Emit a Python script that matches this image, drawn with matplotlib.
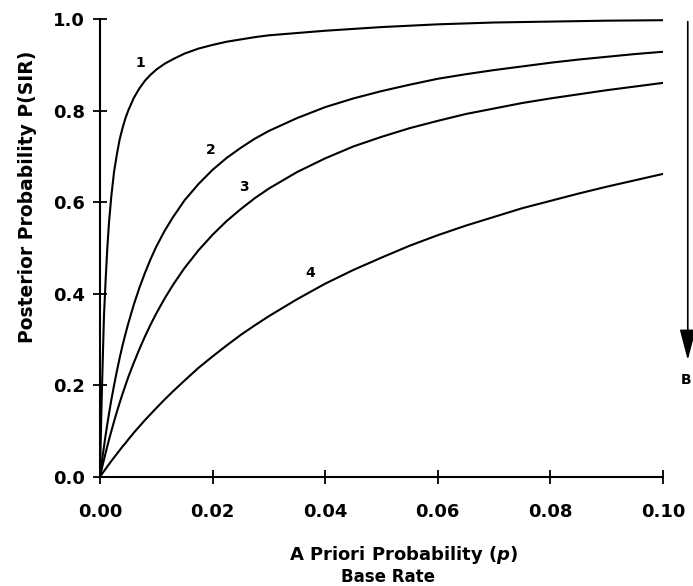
import matplotlib
matplotlib.use("Agg")
import matplotlib.pyplot as plt

# base rate (a priori probability p)
p = [0, 0.0001, 0.0002, 0.0003, 0.0005, 0.0007, 0.001, 0.0013, 0.0016, 0.002,
     0.0025, 0.003, 0.0035, 0.004, 0.0045, 0.005, 0.006, 0.007, 0.008, 0.009,
     0.01, 0.0115, 0.013, 0.015, 0.0175, 0.02, 0.0225, 0.025, 0.0275, 0.03,
     0.035, 0.04, 0.045, 0.05, 0.055, 0.06, 0.065, 0.07, 0.075, 0.08,
     0.085, 0.09, 0.095, 0.10]

# posterior probability P(S|R)
curve1 = [0, 0.06, 0.12, 0.17, 0.26, 0.35, 0.43, 0.50, 0.556, 0.612,
          0.667, 0.705, 0.738, 0.762, 0.783, 0.800, 0.828, 0.849, 0.866, 0.879,
          0.890, 0.903, 0.913, 0.925, 0.936, 0.944, 0.951, 0.956, 0.961, 0.965,
          0.970, 0.975, 0.979, 0.983, 0.986, 0.989, 0.991, 0.993, 0.994, 0.995,
          0.996, 0.997, 0.9975, 0.998]
curve2 = [0, 0.0099, 0.020, 0.029, 0.048, 0.065, 0.091, 0.115, 0.138, 0.167,
          0.200, 0.231, 0.260, 0.287, 0.311, 0.334, 0.376, 0.413, 0.446, 0.476,
          0.503, 0.538, 0.568, 0.604, 0.640, 0.671, 0.697, 0.719, 0.739, 0.756,
          0.784, 0.808, 0.827, 0.843, 0.857, 0.870, 0.880, 0.889, 0.897, 0.905,
          0.912, 0.918, 0.924, 0.929]
curve3 = [0, 0.0055, 0.011, 0.016, 0.027, 0.037, 0.052, 0.067, 0.081, 0.099,
          0.121, 0.142, 0.162, 0.181, 0.199, 0.217, 0.249, 0.279, 0.307, 0.333,
          0.357, 0.390, 0.420, 0.456, 0.495, 0.529, 0.559, 0.585, 0.609, 0.630,
          0.666, 0.696, 0.722, 0.743, 0.762, 0.778, 0.793, 0.805, 0.817, 0.827,
          0.836, 0.845, 0.853, 0.861]
curve4 = [0, 0.00175, 0.0035, 0.0052, 0.0087, 0.0121, 0.017, 0.0223, 0.0273, 0.034,
          0.042, 0.050, 0.058, 0.066, 0.073, 0.081, 0.096, 0.110, 0.124, 0.137,
          0.150, 0.169, 0.187, 0.210, 0.238, 0.263, 0.287, 0.310, 0.331, 0.351,
          0.388, 0.422, 0.452, 0.479, 0.505, 0.528, 0.549, 0.568, 0.587, 0.603,
          0.619, 0.634, 0.648, 0.662]

curves = [curve1, curve2, curve3, curve4]
labels = ['1', '2', '3', '4']
label_pos = [(0.0072, 0.905), (0.0197, 0.715), (0.0256, 0.634), (0.0374, 0.445)]

xticks = [0.00, 0.02, 0.04, 0.06, 0.08, 0.10]
yticks = [0.0, 0.2, 0.4, 0.6, 0.8, 1.0]

plt.rcParams['font.family'] = 'DejaVu Sans'
plt.rcParams['mathtext.fontset'] = 'custom'
plt.rcParams['mathtext.rm'] = 'DejaVu Sans:bold'
plt.rcParams['mathtext.it'] = 'DejaVu Sans:italic:bold'

fig = plt.figure(figsize=(6.93, 5.86), dpi=100)
ax = fig.add_axes([100/693, 1-476.7/586, 563/693, 457.4/586])

for c in curves:
    ax.plot(p, c, color='black', lw=1.5)

for lab, (x, y) in zip(labels, label_pos):
    ax.text(x, y, lab, fontsize=10, fontweight='bold', ha='center', va='center')

ax.set_xlim(0, 0.10)
ax.set_ylim(0, 1.0)
ax.set_xticks(xticks)
ax.set_yticks(yticks)
ax.set_xticklabels(['%.2f' % t for t in xticks])
ax.set_yticklabels(['%.1f' % t for t in yticks])
for s in ['top', 'right']:
    ax.spines[s].set_visible(False)
for s in ['left', 'bottom']:
    ax.spines[s].set_linewidth(1.5)
ax.tick_params(axis='both', direction='inout', length=10, width=1.3, labelsize=13)
ax.tick_params(axis='x', pad=14)
ax.tick_params(axis='y', pad=6)
for t in ax.get_xticklabels() + ax.get_yticklabels():
    t.set_fontweight('bold')

fig.text(28/693, 1-197/586, 'Posterior Probability P(SIR)', rotation=90,
         fontsize=13.5, fontweight='bold', ha='center', va='center')
fig.text(404/693, 1-555/586, r'A Priori Probability $\mathit{(p)}$',
         fontsize=13, fontweight='bold', ha='center', va='center')
fig.text(388/693, 1-577/586, 'Base Rate',
         fontsize=12, fontweight='bold', ha='center', va='center')

# arrow at right edge
ax.annotate('', xy=(1.044, 0.255), xytext=(1.044, 0.995),
            xycoords='axes fraction', textcoords='axes fraction',
            arrowprops=dict(arrowstyle='-|>,head_length=1.9,head_width=0.5',
                            mutation_scale=10, color='black', lw=1.2,
                            shrinkA=0, shrinkB=0),
            annotation_clip=False)
ax.text(1.032, 0.212, 'B', transform=ax.transAxes, fontsize=10,
        fontweight='bold', ha='left', va='center', clip_on=False)

fig.savefig('out.png', dpi=100)
